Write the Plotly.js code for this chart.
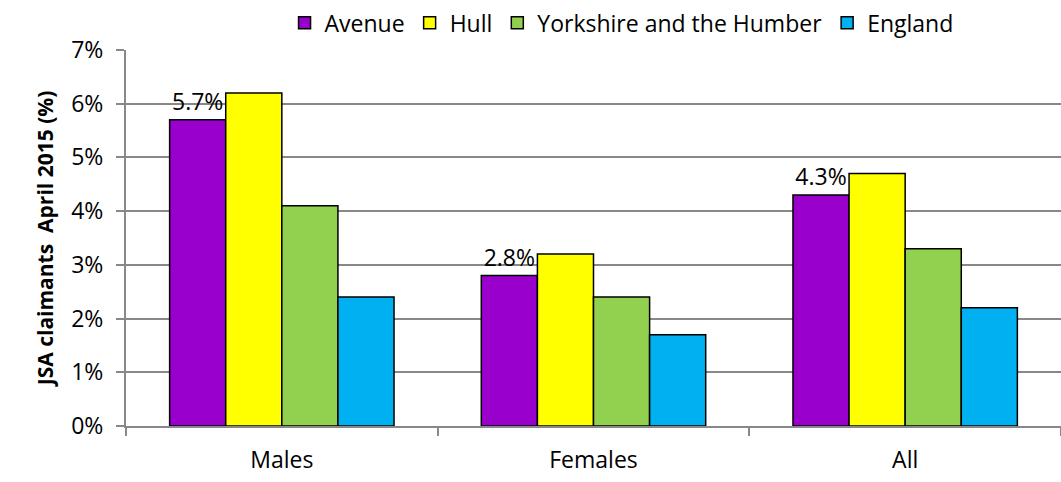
<!DOCTYPE html>
<html>
<head>
<meta charset="utf-8">
<script src="https://cdn.plot.ly/plotly-3.0.1.min.js"></script>
<style>html,body{margin:0;padding:0;background:#fff;}#chart{width:1061px;height:482px;}</style>
</head>
<body>
<div id="chart"></div>
<script>
const categories = ["Males", "Females", "All"];
const seriesNames = ["Avenue", "Hull", "Yorkshire and the Humber", "England"];
const avenue = [5.7, 2.8, 4.3];
const hull = [6.2, 3.2, 4.7];
const yorkshire = [4.1, 2.4, 3.3];
const england = [2.4, 1.7, 2.2];
const colors = ["#9900CC", "#FFFF00", "#92D050", "#00B0F0"];
const yTickVals = [0, 1, 2, 3, 4, 5, 6, 7];
const yTickText = ["0%", "1%", "2%", "3%", "4%", "5%", "6%", "7%"];

const FONT = "'Open Sans', Lato, sans-serif";
const allSeries = [avenue, hull, yorkshire, england];
const traces = allSeries.map((vals, i) => {
  const t = {
    type: "bar",
    name: seriesNames[i],
    x: categories,
    y: vals,
    marker: {color: colors[i], line: {color: "#000", width: 1.5}},
    hoverinfo: "none"
  };
  if (i === 0) {
    t.text = vals.map(v => v.toFixed(1) + "%");
    t.textposition = "outside";
    t.textfont = {family: FONT, size: 23, color: "#000"};
    t.cliponaxis = false;
  }
  return t;
});

const layout = {
  width: 1061, height: 482,
  margin: {l: 126, r: 0, t: 50, b: 56},
  paper_bgcolor: "#fff", plot_bgcolor: "#fff",
  font: {family: FONT, size: 23, color: "#000"},
  barmode: "group",
  bargap: 0.28,
  bargroupgap: 0,
  showlegend: true,
  legend: {
    orientation: "h", x: 0.53, xanchor: "center", y: 1.015, yanchor: "bottom",
    font: {family: FONT, size: 23, color: "#000"},
    traceorder: "normal", itemwidth: 30
  },
  xaxis: {
    type: "category",
    showgrid: false,
    showline: true, linecolor: "#888", linewidth: 2,
    ticks: "outside", tickson: "boundaries", ticklen: 8, tickcolor: "#888", tickwidth: 2,
    ticklabelstandoff: 12,
    tickfont: {family: FONT, size: 23, color: "#000"}
  },
  yaxis: {
    range: [0, 7],
    tickvals: yTickVals, ticktext: yTickText,
    showgrid: true, gridcolor: "#888", gridwidth: 2,
    showline: true, linecolor: "#888", linewidth: 2,
    ticks: "outside", ticklen: 8, tickcolor: "#888", tickwidth: 2,
    ticklabelstandoff: 8,
    tickfont: {family: FONT, size: 23, color: "#000"},
    zeroline: false,
    title: {text: "<b>JSA claimants  April 2015 (%)</b>", font: {family: FONT, size: 21, color: "#000"}, standoff: 12}
  }
};

Plotly.newPlot("chart", traces, layout, {displayModeBar: false, staticPlot: true});
</script>
</body>
</html>
